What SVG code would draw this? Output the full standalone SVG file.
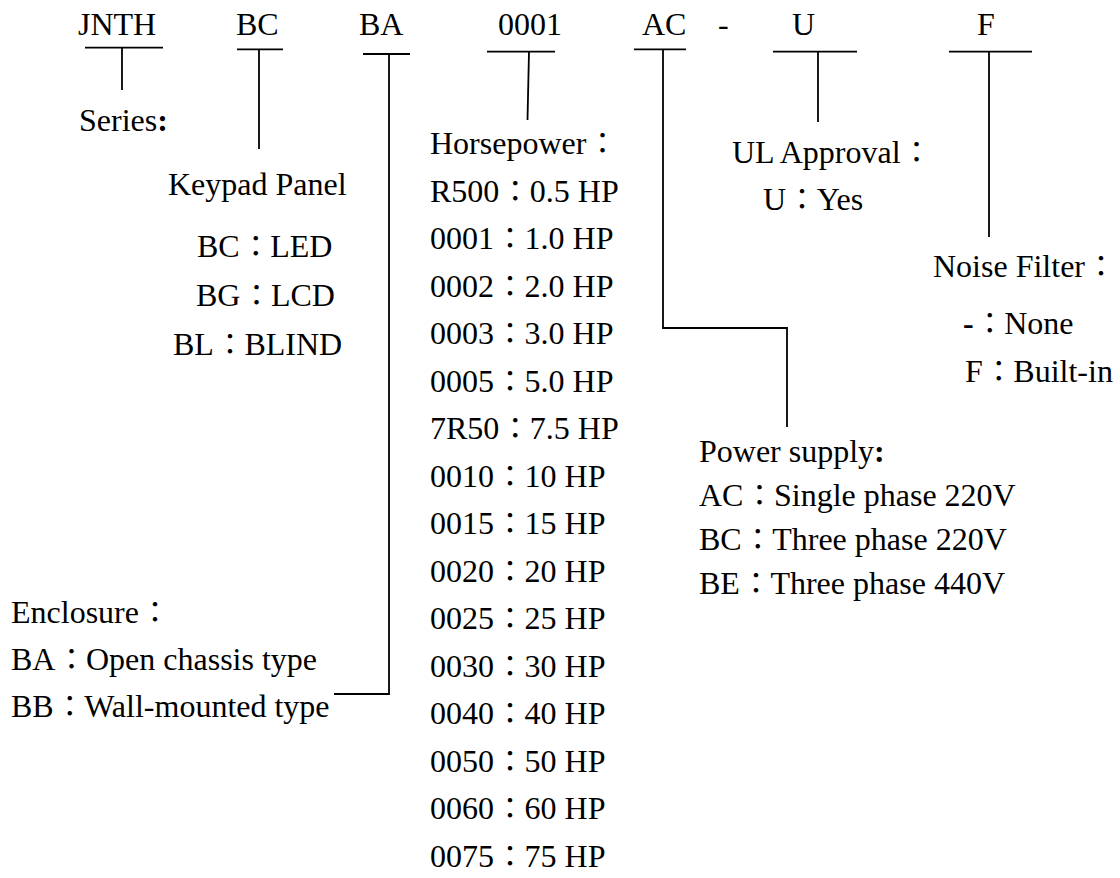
<svg xmlns="http://www.w3.org/2000/svg" width="1120" height="878" viewBox="0 0 1120 878">
<style>
text{font-family:"Liberation Serif","Times New Roman",serif;font-size:32px;fill:#000}
.c{font-family:"Noto Sans CJK TC","Noto Sans CJK JP",sans-serif;font-size:29px}
.b{font-weight:bold}
line,polyline{stroke:#000;stroke-width:1.8;fill:none}
</style>
<rect width="1120" height="878" fill="#fff"/>
<g id="code">
<text x="78" y="35">JNTH</text>
<text x="236" y="35">BC</text>
<text x="359" y="35">BA</text>
<text x="498" y="35">0001</text>
<text x="642" y="35">AC</text>
<text x="718" y="35">-</text>
<text x="792" y="35">U</text>
<text x="977" y="35">F</text>
</g>
<g id="connectors">
<line x1="85" y1="47.7" x2="163" y2="47.7"/>
<line x1="122" y1="47.7" x2="122" y2="90"/>
<line x1="237" y1="49.3" x2="283" y2="49.3"/>
<line x1="259" y1="49.3" x2="259" y2="149"/>
<line x1="363" y1="54" x2="410" y2="54"/>
<polyline points="389,54 389,694 334,694"/>
<line x1="487" y1="51.7" x2="555" y2="51.7"/>
<line x1="529" y1="51.7" x2="527.5" y2="120"/>
<line x1="634" y1="49.3" x2="686" y2="49.3"/>
<polyline points="663,49.3 663,328 787,328 787,427"/>
<line x1="773" y1="51.7" x2="857" y2="51.7"/>
<line x1="818" y1="51.7" x2="818" y2="122"/>
<line x1="949" y1="51.7" x2="1032" y2="51.7"/>
<line x1="989" y1="51.7" x2="989" y2="237"/>
</g>
<g id="series"><text x="79" y="131">Series<tspan class="b">:</tspan></text></g>
<g id="keypad">
<text x="168" y="195">Keypad Panel</text>
<text x="197" y="257">BC<tspan class="c" dx="1.5">：</tspan>LED</text>
<text x="196" y="306">BG<tspan class="c" dx="1.5">：</tspan>LCD</text>
<text x="173" y="355">BL<tspan class="c" dx="1.5">：</tspan>BLIND</text>
</g>
<g id="horsepower">
<text x="430" y="154">Horsepower<tspan class="c" dx="1.5">：</tspan></text>
<text x="430" y="201.5">R500<tspan class="c" dx="1.5">：</tspan>0.5 HP</text>
<text x="430" y="249">0001<tspan class="c" dx="1.5">：</tspan>1.0 HP</text>
<text x="430" y="296.5">0002<tspan class="c" dx="1.5">：</tspan>2.0 HP</text>
<text x="430" y="344">0003<tspan class="c" dx="1.5">：</tspan>3.0 HP</text>
<text x="430" y="391.5">0005<tspan class="c" dx="1.5">：</tspan>5.0 HP</text>
<text x="430" y="439">7R50<tspan class="c" dx="1.5">：</tspan>7.5 HP</text>
<text x="430" y="486.5">0010<tspan class="c" dx="1.5">：</tspan>10 HP</text>
<text x="430" y="534">0015<tspan class="c" dx="1.5">：</tspan>15 HP</text>
<text x="430" y="581.5">0020<tspan class="c" dx="1.5">：</tspan>20 HP</text>
<text x="430" y="629">0025<tspan class="c" dx="1.5">：</tspan>25 HP</text>
<text x="430" y="676.5">0030<tspan class="c" dx="1.5">：</tspan>30 HP</text>
<text x="430" y="724">0040<tspan class="c" dx="1.5">：</tspan>40 HP</text>
<text x="430" y="771.5">0050<tspan class="c" dx="1.5">：</tspan>50 HP</text>
<text x="430" y="819">0060<tspan class="c" dx="1.5">：</tspan>60 HP</text>
<text x="430" y="866.5">0075<tspan class="c" dx="1.5">：</tspan>75 HP</text>
</g>
<g id="ul">
<text x="732" y="163">UL Approval<tspan class="c" dx="1.5">：</tspan></text>
<text x="763" y="210">U<tspan class="c" dx="1.5">：</tspan>Yes</text>
</g>
<g id="noise">
<text x="933" y="277">Noise Filter<tspan class="c" dx="1.5">：</tspan></text>
<text x="963" y="334"><tspan class="b">-</tspan><tspan class="c" dx="1.5">：</tspan>None</text>
<text x="965" y="382">F<tspan class="c" dx="1.5">：</tspan>Built-in</text>
</g>
<g id="power">
<text x="699" y="462">Power supply<tspan class="b">:</tspan></text>
<text x="699" y="506">AC<tspan class="c" dx="1.5">：</tspan>Single phase 220V</text>
<text x="699" y="550">BC<tspan class="c" dx="1.5">：</tspan>Three phase 220V</text>
<text x="699" y="594">BE<tspan class="c" dx="1.5">：</tspan>Three phase 440V</text>
</g>
<g id="enclosure">
<text x="11" y="623">Enclosure<tspan class="c" dx="1.5">：</tspan></text>
<text x="11" y="670">BA<tspan class="c" dx="1.5">：</tspan>Open chassis type</text>
<text x="11" y="717">BB<tspan class="c" dx="1.5">：</tspan>Wall-mounted type</text>
</g>
</svg>
